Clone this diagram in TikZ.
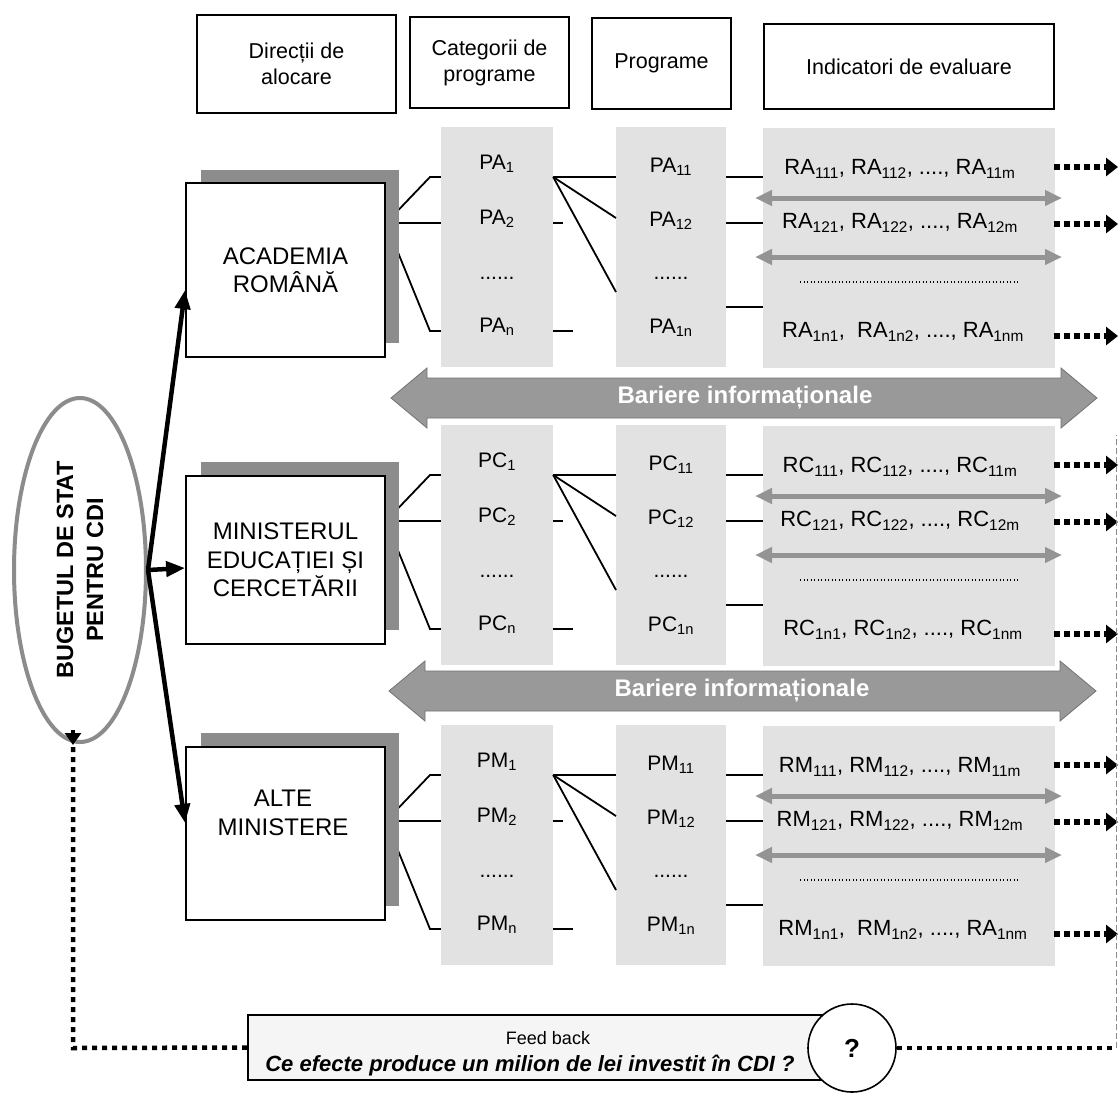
\documentclass[tikz,border=0pt]{standalone}
\usepackage{fontspec}
\setmainfont{Liberation Sans}
\usetikzlibrary{arrows.meta,shapes.geometric}
\newcommand\sbs[1]{\textsubscript{#1}}
\newcommand\fsz[2]{\fontsize{#1}{#2}\selectfont}
\definecolor{colg}{gray}{0.885}
\definecolor{shadeg}{gray}{0.55}
\definecolor{barg}{gray}{0.6}
\definecolor{dblg}{gray}{0.58}
\definecolor{ellg}{gray}{0.55}
\tikzset{
 hdr/.style={draw, line width=1.6pt, fill=white, align=center, font=\fsz{21.5}{26}, inner sep=0pt},
 orgbox/.style={draw, line width=1.8pt, fill=white, inner sep=0pt, align=center, font=\fsz{24}{28.5}, minimum width=199pt, minimum height=174pt},
 shadowbox/.style={fill=shadeg},
 colbox/.style={fill=colg, inner sep=0pt},
 lab/.style={font=\fsz{21}{25}, inner sep=0pt},
 ind/.style={font=\fsz{22}{26}, inner sep=0pt},
 link/.style={line width=1.8pt},
 fund/.style={line width=4.5pt, -{Triangle[length=19pt,width=15pt]}},
 dotarrow/.style={line width=5.5pt, dash pattern=on 6pt off 4pt, -{Triangle[length=12pt,width=18pt]}},
 fbdot/.style={line width=4.5pt, dash pattern=on 5pt off 5pt},
 dblarr/.style={line width=5pt, draw=dblg, {Triangle[length=17pt,width=15pt]}-{Triangle[length=17pt,width=15pt]}},
 sepdots/.style={line width=1.3pt, dash pattern=on 1.3pt off 2.2pt},
 barfill/.style={fill=barg, draw=black!55, line width=0.8pt},
 bartxt/.style={font=\bfseries\fsz{24}{28}, text=white, inner sep=0pt},
}
% #1 top y, #2 letter, #3 last indicator row
\newcommand\drawsect[3]{%
 \node[colbox, minimum width=112pt, minimum height=240pt] (ca#2) at (497,#1+120) {};
 \node[colbox, minimum width=110pt, minimum height=240pt] (cb#2) at (671,#1+120) {};
 \node[colbox, minimum width=292pt, minimum height=240pt] (cc#2) at (909,#1+121) {};
 \node[lab] (pa1#2) at (497,#1+37) {P#2\sbs{1}};
 \node[lab] (pa2#2) at (497,#1+92) {P#2\sbs{2}};
 \node[lab] (pad#2) at (497,#1+151) {......};
 \node[lab] (pan#2) at (497,#1+200) {P#2\sbs{n}};
 \node[lab] (pb1#2) at (671,#1+40) {P#2\sbs{11}};
 \node[lab] (pb2#2) at (671,#1+94) {P#2\sbs{12}};
 \node[lab] (pbd#2) at (671,#1+151) {......};
 \node[lab] (pbn#2) at (671,#1+201) {P#2\sbs{1n}};
 \node[ind] (r1#2) at (900,#1+42) {R#2\sbs{111}, R#2\sbs{112}, ...., R#2\sbs{11m}};
 \node[ind] (r2#2) at (900,#1+96) {R#2\sbs{121}, R#2\sbs{122}, ...., R#2\sbs{12m}};
 \node[ind] (rn#2) at (903,#1+205) {#3};
 % separators inside indicator column
 \coordinate (d1l#2) at (755,#1+71); \coordinate (d1r#2) at (1062,#1+71);
 \coordinate (d2l#2) at (755,#1+130); \coordinate (d2r#2) at (1062,#1+130);
 \draw[dblarr] (d1l#2) -- (d1r#2);
 \draw[dblarr] (d2l#2) -- (d2r#2);
 \coordinate (sdl#2) at (800,#1+155); \coordinate (sdr#2) at (1018,#1+155);
 \draw[sepdots] (sdl#2) -- (sdr#2);
 % fan from the institution box
 \coordinate (fo#2) at (386,#1+96);
 \coordinate (k1#2) at (430,#1+50);
 \coordinate (k3#2) at (430,#1+204);
 \draw[link] (fo#2) -- (k1#2) -- (ca#2.west |- k1#2);
 \draw[link] (fo#2) -- (ca#2.west |- fo#2);
 \draw[link] (fo#2) -- (k3#2) -- (ca#2.west |- k3#2);
 % stubs after categories
 \coordinate (s2#2) at (563,#1+96);
 \coordinate (sn#2) at (573,#1+204);
 \draw[link] (ca#2.east |- s2#2) -- (s2#2);
 \draw[link] (ca#2.east |- sn#2) -- (sn#2);
 % fan to programmes
 \coordinate (m2#2) at (616,#1+91);
 \coordinate (m3#2) at (616,#1+165);
 \draw[link] (ca#2.east |- k1#2) -- (cb#2.west |- k1#2);
 \draw[link] (ca#2.east |- k1#2) -- (m2#2);
 \draw[link] (ca#2.east |- k1#2) -- (m3#2);
 % programmes to indicators
 \coordinate (q3#2) at (726,#1+180);
 \draw[link] (cb#2.east |- k1#2) -- (cc#2.west |- k1#2);
 \draw[link] (cb#2.east |- fo#2) -- (cc#2.west |- fo#2);
 \draw[link] (q3#2) -- (cc#2.west |- q3#2);
 % dotted output arrows
 \coordinate (o1#2) at (1054,#1+40); \coordinate (e1#2) at (1118,#1+40);
 \coordinate (o2#2) at (1054,#1+97); \coordinate (e2#2) at (1118,#1+97);
 \coordinate (o3#2) at (1054,#1+209); \coordinate (e3#2) at (1118,#1+209);
 \draw[dotarrow] (o1#2) -- (e1#2);
 \draw[dotarrow] (o2#2) -- (e2#2);
 \draw[dotarrow] (o3#2) -- (e3#2);
}
\begin{document}
\begin{tikzpicture}[x=1pt,y=-1pt]
\useasboundingbox[fill=white] (0,0) rectangle (1119,1093);
% headers
\node[hdr, minimum width=199pt, minimum height=98pt] (h1) at (296.5,64) {Direcții de\\alocare};
\node[hdr, minimum width=159pt, minimum height=91pt] (h2) at (489.5,62.5) {Categorii de\\programe};
\node[hdr, minimum width=139pt, minimum height=91pt] (h3) at (661.5,63.5) {Programe};
\node[hdr, minimum width=290pt, minimum height=85pt] (h4) at (909,66.5) {Indicatori de evaluare};

% sections
\drawsect{127}{A}{RA\sbs{1n1},\ \ RA\sbs{1n2}, ...., RA\sbs{1nm}}
\drawsect{425}{C}{RC\sbs{1n1}, RC\sbs{1n2}, ...., RC\sbs{1nm}}
\drawsect{725}{M}{RM\sbs{1n1},\ \ RM\sbs{1n2}, ...., RA\sbs{1nm}}

% institution boxes with shadows
\fill[shadowbox] (201,170) rectangle (399,343);
\node[orgbox] (acad) at (285.5,270) {ACADEMIA\\ROMÂNĂ};
\fill[shadowbox] (201,462) rectangle (399,630);
\node[orgbox, minimum height=168pt] (mec) at (285.5,560) {MINISTERUL\\EDUCAȚIEI ȘI\\CERCETĂRII};
\fill[shadowbox] (201,733) rectangle (399,906);
\node[orgbox, minimum height=173pt] (alte) at (285.5,833.5) {};
\node[font=\fsz{24}{28.5}, align=center, inner sep=0pt] (alteT) at (283,813) {ALTE\\MINISTERE};

% information barriers
\fill[barfill] (391,398) -- (427,368) -- (427,378) -- (1061,378) -- (1061,368) -- (1097,398)
  -- (1061,428) -- (1061,418) -- (427,418) -- (427,428) -- cycle;
\node[bartxt] (bar1) at (745,398) {Bariere informaționale};
\fill[barfill] (389,691) -- (425,661) -- (425,671) -- (1060,671) -- (1060,661) -- (1096,691)
  -- (1060,721) -- (1060,711) -- (425,711) -- (425,721) -- cycle;
\node[bartxt] (bar2) at (742,691) {Bariere informaționale};

% budget ellipse
\node[ellipse, draw=ellg, line width=4pt, fill=white, rotate=90, minimum width=344pt, minimum height=132pt,
  inner sep=0pt, align=center, font=\bfseries\fsz{23.5}{30}] (buget) at (80,570) {BUGETUL DE STAT\\PENTRU CDI};

% funding arrows
\draw[fund] (buget.south) -- ([yshift=-20pt]acad.west);
\draw[fund] (buget.south) -- ([yshift=-8pt]mec.west);
\draw[fund] (buget.south) -- ([yshift=10.5pt]alte.west);

% feedback
\node[draw, line width=1.6pt, fill=black!4, minimum width=590pt, minimum height=65pt, inner sep=0pt] (fb) at (543,1047.5) {};
\node[font=\fsz{18}{22}, inner sep=0pt] (fbt) at (548,1038) {Feed back};
\node[font=\bfseries\itshape\fsz{22}{26}, inner sep=0pt] (fbq) at (530,1066) {Ce efecte produce un milion de lei investit în CDI ?};
\node[circle, draw, line width=1.6pt, fill=white, minimum size=88pt, inner sep=0pt, font=\bfseries\fsz{26}{30}] (q) at (852,1048) {?};
\coordinate (fbL) at (73,1048);
\draw[fbdot] (fb.west) -- (fbL) -- ([yshift=-2pt]fbL |- buget.west);
\draw[-{Triangle[length=12pt,width=16pt]}, line width=4.5pt] ([yshift=14pt]fbL |- buget.west) -- ([yshift=-1pt]fbL |- buget.west);
\coordinate (fbR) at (1116,1048);
\coordinate (fbTop) at (1116,435);
\draw[fbdot] (q.east) -- (fbR);
\draw[line width=1pt, draw=black!45, dash pattern=on 6pt off 3pt] (fbR) -- (fbTop);
\end{tikzpicture}
\end{document}
